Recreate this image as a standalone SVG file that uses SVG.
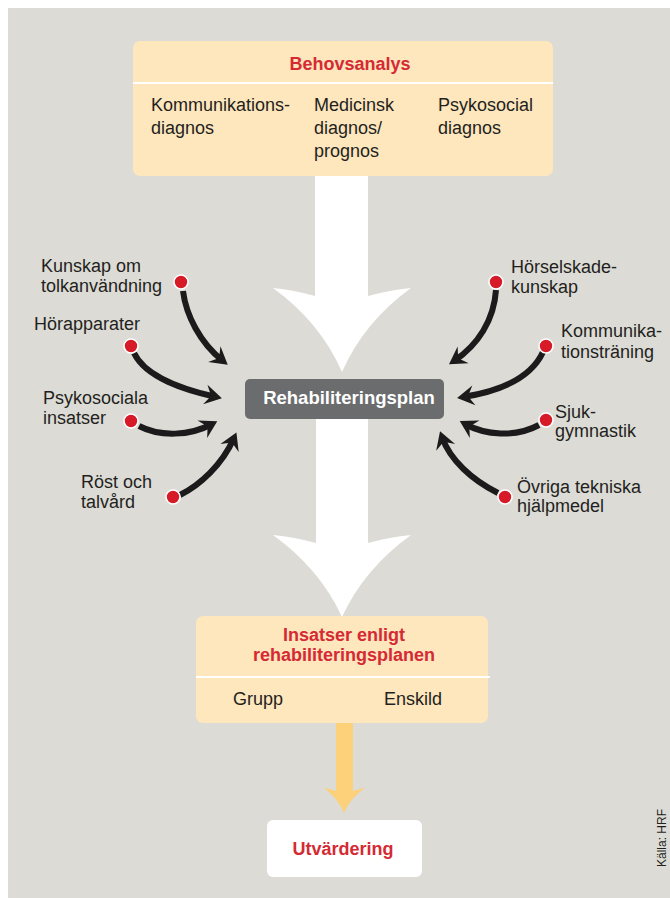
<svg xmlns="http://www.w3.org/2000/svg" width="670" height="898" viewBox="0 0 670 898">
<style>
.t{font-family:"Liberation Sans",Arial,sans-serif;font-size:18px;fill:#231f20}
.b{font-family:"Liberation Sans",Arial,sans-serif;font-size:18px;font-weight:bold;fill:#d52a34}
.w{font-family:"Liberation Sans",Arial,sans-serif;font-size:18.5px;font-weight:bold;fill:#ffffff}
.box{fill:#fee6bd}
.div{stroke:#ffffff;stroke-width:1.8}
.dot{fill:#d71a28;stroke:#ffffff;stroke-width:1.6}
.ar{fill:none;stroke:#1c1a1b;stroke-width:6;marker-end:url(#ah)}
</style>
<defs>
<marker id="ah" markerUnits="userSpaceOnUse" markerWidth="34" markerHeight="34" viewBox="-17 -17 34 34" refX="0" refY="0" orient="auto">
<path d="M 6 0 L -11 -10 L -5 0 L -11 10 Z" fill="#1c1a1b"/>
</marker>
</defs>
<rect x="0" y="0" width="670" height="898" fill="#ffffff"/>
<rect x="8" y="8" width="662" height="890" fill="#dcdbd6"/>

<g id="connectors">
<path id="bigarrow1" d="M 315 170 L 368 170 L 368 296 Q 390 290 411 288 Q 364 322 342 372 Q 320 322 273 288 Q 294 290 315 296 Z" fill="#ffffff"/>
<path id="bigarrow2" d="M 316 410 L 368 410 L 368 543 Q 390 537 411 535 Q 364 569 342 617 Q 320 569 273 535 Q 294 537 316 543 Z" fill="#ffffff"/>
<path id="yellowarrow" d="M 336 720 L 353 720 L 353 791 Q 359 789 365 788 Q 350 798 344 813 Q 338 798 324 788 Q 330 789 336 791 Z" fill="#fdd07a"/>
<path class="ar" d="M 183 291 C 186 315 200 343 223 361"/>
<path class="ar" d="M 134 353 C 146 378 185 390 216 397"/>
<path class="ar" d="M 139 426 C 160 437 190 436 212 424"/>
<path class="ar" d="M 180 495 C 200 485 222 465 234 438"/>
<path class="ar" d="M 496 290 C 494 320 478 345 454 361"/>
<path class="ar" d="M 543 352 C 530 380 495 392 463 397"/>
<path class="ar" d="M 539 425 C 515 438 485 435 465 424"/>
<path class="ar" d="M 498 493 C 472 480 450 460 442 437"/>
</g>

<g id="behovsanalys">
<rect class="box" x="133" y="41" width="420" height="135" rx="7"/>
<line class="div" x1="133" y1="83" x2="553" y2="83"/>
<text class="b" x="350" y="70" text-anchor="middle">Behovsanalys</text>
<text class="t" x="151" y="111">Kommunikations-</text>
<text class="t" x="151" y="134">diagnos</text>
<text class="t" x="314" y="111">Medicinsk</text>
<text class="t" x="314" y="134">diagnos/</text>
<text class="t" x="314" y="157">prognos</text>
<text class="t" x="438" y="111">Psykosocial</text>
<text class="t" x="438" y="134">diagnos</text>
</g>

<g id="rehabiliteringsplan">
<rect x="245" y="379" width="199" height="40" rx="5" fill="#6b6c6e"/>
<text class="w" x="349" y="404" text-anchor="middle">Rehabiliteringsplan</text>
</g>

<g id="kunskap-tolk">
<text class="t" x="41" y="272">Kunskap om</text>
<text class="t" x="41" y="292">tolkanvändning</text>
<circle class="dot" cx="181" cy="282" r="7"/>
</g>
<g id="horapparater">
<text class="t" x="34" y="330">Hörapparater</text>
<circle class="dot" cx="131" cy="346" r="7"/>
</g>
<g id="psykosociala">
<text class="t" x="43" y="404">Psykosociala</text>
<text class="t" x="43" y="424">insatser</text>
<circle class="dot" cx="131" cy="421" r="7"/>
</g>
<g id="rost-talvard">
<text class="t" x="81" y="488">Röst och</text>
<text class="t" x="81" y="508">talvård</text>
<circle class="dot" cx="173" cy="497" r="7"/>
</g>

<g id="horselskade">
<text class="t" x="511" y="273">Hörselskade-</text>
<text class="t" x="511" y="293">kunskap</text>
<circle class="dot" cx="496" cy="282" r="7"/>
</g>
<g id="kommunikationstraning">
<text class="t" x="561" y="337">Kommunika-</text>
<text class="t" x="561" y="358">tionsträning</text>
<circle class="dot" cx="546" cy="346" r="7"/>
</g>
<g id="sjukgymnastik">
<text class="t" x="555" y="418">Sjuk-</text>
<text class="t" x="555" y="437">gymnastik</text>
<circle class="dot" cx="546" cy="420" r="7"/>
</g>
<g id="ovriga">
<text class="t" x="517" y="493">Övriga tekniska</text>
<text class="t" x="517" y="512">hjälpmedel</text>
<circle class="dot" cx="505" cy="497" r="7"/>
</g>

<g id="insatser">
<rect class="box" x="196" y="616" width="292" height="107" rx="7"/>
<line class="div" x1="196" y1="677" x2="490" y2="677"/>
<text class="b" x="344" y="641" text-anchor="middle">Insatser enligt</text>
<text class="b" x="344" y="661" text-anchor="middle">rehabiliteringsplanen</text>
<text class="t" x="233" y="705">Grupp</text>
<text class="t" x="384" y="705">Enskild</text>
</g>

<g id="utvardering">
<rect x="267" y="820" width="155" height="57" rx="6" fill="#ffffff"/>
<text class="b" x="343" y="855" text-anchor="middle">Utvärdering</text>
</g>

<text transform="translate(666,838) rotate(-90)" text-anchor="middle" style="font-family:'Liberation Sans',Arial,sans-serif;font-size:12px;fill:#231f20">Källa: HRF</text>
</svg>
